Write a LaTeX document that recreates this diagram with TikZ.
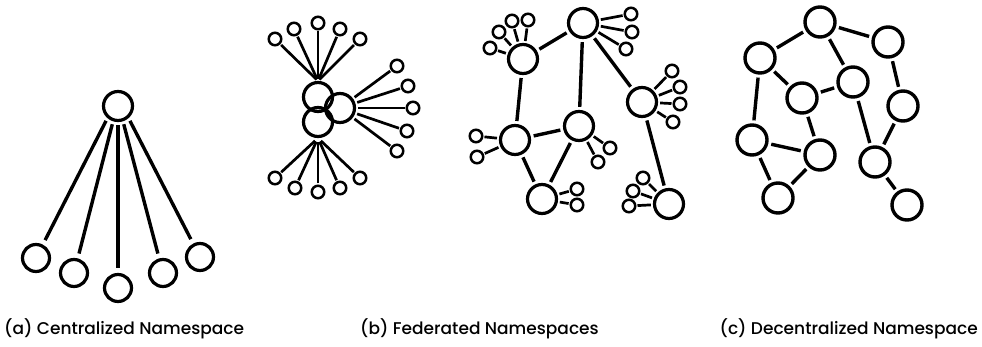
\documentclass[tikz,border=0pt]{standalone}
\usepackage{fontspec}
\setmainfont{Poppins}
\newfontfamily\labfont{Poppins}[UprightFont=* Medium]
\begin{document}
\begin{tikzpicture}[x=1pt,y=-1pt,
  big/.style={circle,draw,line width=3.2pt,minimum size=29pt,inner sep=0pt},
  mid/.style={circle,draw,line width=3.2pt,minimum size=27pt,inner sep=0pt},
  dec/.style={circle,draw,line width=3.4pt,minimum size=30pt,inner sep=0pt},
  sm/.style={circle,draw,line width=2.5pt,minimum size=12.5pt,inner sep=0pt},
  edge/.style={line width=3.4pt,shorten <=3pt,shorten >=3pt},
  spoke/.style={line width=2.7pt,shorten <=1pt,shorten >=2pt},
  lab/.style={font=\labfont\fontsize{17}{19}\selectfont,inner sep=0pt}]
\useasboundingbox (0,0) rectangle (982,347);
% (a) centralized
\node[big] (ct) at (118,106) {};
\node[mid] (c1) at (36,258) {};
\node[mid] (c2) at (74,273) {};
\node[mid] (c3) at (118,288) {};
\node[mid] (c4) at (163,273) {};
\node[mid] (c5) at (200,257) {};
\draw[line width=3.4pt,shorten <=3pt,shorten >=5pt] (ct.229) -- (c1);
\draw[line width=3.4pt,shorten <=3pt,shorten >=5pt] (ct.252) -- (c2);
\draw[line width=3.4pt,shorten <=3pt,shorten >=5pt] (ct.270) -- (c3);
\draw[line width=3.4pt,shorten <=3pt,shorten >=5pt] (ct.288) -- (c4);
\draw[line width=3.4pt,shorten <=3pt,shorten >=5pt] (ct.311) -- (c5);
% (b) federated cluster
\node[big] (fa) at (318,97) {};
\node[big] (fb) at (340,108) {};
\node[big] (fc) at (318,122) {};
\foreach \n/\x/\y in {t1/275/39,t2/294/29,t3/318/23,t4/340/29,t5/360/39}{
  \node[sm] (\n) at (\x,\y) {};
  \draw[spoke] (\n) -- (fa.north);
}
\foreach \n/\x/\y in {r1/397/66,r2/408/86,r3/413/108,r4/407/131,r5/397/151}{
  \node[sm] (\n) at (\x,\y) {};
  \draw[spoke] (\n) -- (fb);
}
\foreach \n/\x/\y in {b1/275/178,b2/295/188,b3/318/192,b4/340/188,b5/360/178}{
  \node[sm] (\n) at (\x,\y) {};
  \draw[spoke,shorten >=4pt] (\n) -- (fc.south);
}
% (b) federated graph
\node[big] (g1) at (583,23) {};
\node[big] (g2) at (523,59) {};
\node[big] (g3) at (642,102) {};
\node[big] (g4) at (579,126) {};
\node[big] (g5) at (515,140) {};
\node[big] (g6) at (542,199) {};
\node[big] (g7) at (669,204) {};
\draw[edge] (g1) -- (g2);
\draw[edge] (g1) -- (g4);
\draw[edge] (g1) -- (g3);
\draw[edge] (g2) -- (g5);
\draw[edge] (g5) -- (g4);
\draw[edge] (g5) -- (g6);
\draw[edge] (g4) -- (g6);
\draw[edge] (g3) -- (g7);
\foreach \g/\n/\x/\y in {g1/s11/631/14,g1/s12/632/32,g1/s13/626/49,
  g2/s21/490/48,g2/s22/499/32,g2/s23/512/21,g2/s24/528/20,
  g3/s31/672/71,g3/s32/680/87,g3/s33/680/104,g3/s34/673/122,
  g4/s41/610/148,g4/s42/598/162,
  g5/s51/476/136,g5/s52/477/157,
  g6/s61/577/189,g6/s62/577/205,
  g7/s71/643/178,g7/s72/633/191,g7/s73/629/206}{
  \node[sm] (\n) at (\x,\y) {};
  \draw[spoke] (\n) -- (\g);
}
% (c) decentralized
\node[dec] (d1) at (820,22) {};
\node[dec] (d2) at (888,42) {};
\node[dec] (d3) at (760,58) {};
\node[dec] (d4) at (853,82) {};
\node[dec] (d5) at (802,98) {};
\node[dec] (d6) at (903,106) {};
\node[dec] (d7) at (752,140) {};
\node[dec] (d8) at (820,155) {};
\node[dec] (d9) at (875,162) {};
\node[dec] (d10) at (778,198) {};
\node[dec] (d11) at (907,205) {};
\foreach \a/\b in {d1/d3,d1/d2,d1/d4,d3/d5,d3/d7,d4/d5,d4/d9,d2/d6,d6/d9,d5/d8,d7/d8,d7/d10,d8/d10,d9/d11}{
  \draw[edge] (\a) -- (\b);
}
% labels
\node[lab,anchor=west] (la) at (4,329) {(a) Centralized Namespace};
\node[lab,anchor=west] (lb) at (360,329) {(b) Federated Namespaces};
\node[lab,anchor=east] (lc) at (978,329) {(c) Decentralized Namespace};
\end{tikzpicture}
\end{document}
